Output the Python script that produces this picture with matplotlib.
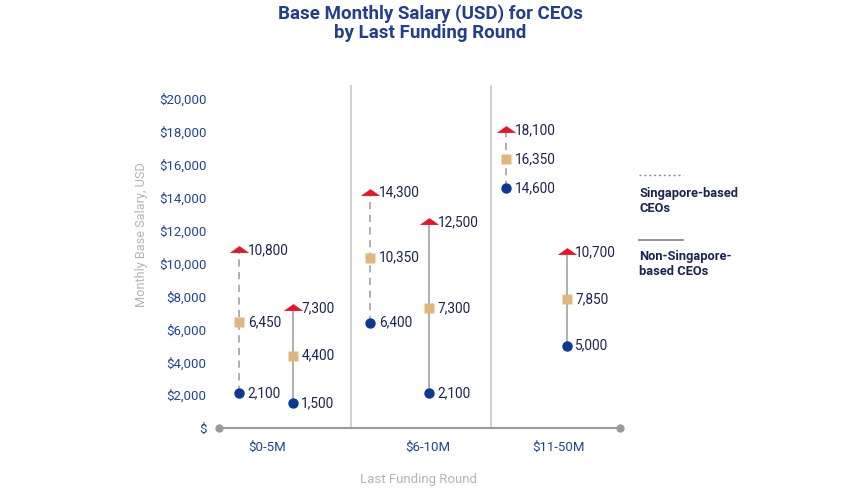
import matplotlib
matplotlib.use("Agg")
import matplotlib.pyplot as plt
from matplotlib.path import Path
import numpy as np

plt.rcParams['font.family'] = ['Roboto', 'DejaVu Sans']

categories = ["$0-5M", "$6-10M", "$11-50M"]
sg_high = [10800, 14300, 18100]
sg_mid = [6450, 10350, 16350]
sg_low = [2100, 6400, 14600]
non_high = [7300, 12500, 10700]
non_mid = [4400, 7300, 7850]
non_low = [1500, 2100, 5000]
yticks = [0, 2000, 4000, 6000, 8000, 10000, 12000, 14000, 16000, 18000, 20000]
ytick_labels = ["$", "$2,000", "$4,000", "$6,000", "$8,000", "$10,000", "$12,000",
                "$14,000", "$16,000", "$18,000", "$20,000"]

TITLE_C = "#233f8c"
TICK_C = "#1f4699"
VAL_C = "#1c2452"
RED = "#e8142c"
TAN = "#e2b57c"
NAVY = "#0b3a95"
GRAY = "#a9a9a9"

fig = plt.figure(figsize=(8.68, 4.88), dpi=100)
W, H = 868, 488
ax = fig.add_axes([219 / W, 1 - 428 / H, (620 - 219) / W, (428 - 85) / H])
ax.set_xlim(0, 3)
ax.set_ylim(0, 20850)
for s in ax.spines.values():
    s.set_visible(False)

tri = Path([(-1, -0.25), (1, -0.25), (0, 0.45), (-1, -0.25)],
           [Path.MOVETO, Path.LINETO, Path.LINETO, Path.CLOSEPOLY])

sg_x = [0.15, 1.13, 2.15]
non_x = [0.55, 1.57, 2.60]
for i in range(3):
    for xs_list, hi, md, lo, ls in [(sg_x, sg_high, sg_mid, sg_low, (0, (4, 3))),
                                    (non_x, non_high, non_mid, non_low, '-')]:
        x = xs_list[i]
        ax.plot([x, x], [lo[i], hi[i]], color=GRAY, lw=1.3, linestyle=ls, zorder=1)
        ax.plot(x, hi[i], marker=tri, ms=14, color=RED, mec='none', zorder=3)
        ax.plot(x, md[i], marker='s', ms=7, color=TAN, mec='none', zorder=3)
        ax.plot(x, lo[i], marker='o', ms=7.5, color=NAVY, mec='none', zorder=3)
        for v in (hi[i], md[i], lo[i]):
            ax.text(x + 0.065, v, f"{v:,}", color=VAL_C, fontsize=9.8,
                    va='center', ha='left', zorder=4)

# separators
for xs in (0.9875, 2.035):
    ax.axvline(xs, color="#c8c8c8", lw=1.2, zorder=0)

# bottom axis with dots
ax.plot([0, 3], [0, 0], color="#9a9a9a", lw=1.5, clip_on=False, zorder=2)
ax.plot([0, 3], [0, 0], 'o', color="#9a9a9a", ms=5, clip_on=False, zorder=2)

ax.set_yticks(yticks)
ax.set_yticklabels(ytick_labels)
ax.tick_params(axis='y', length=0, pad=9, labelsize=9.5, labelcolor=TICK_C)
ax.set_xticks([0.36, 1.56, 2.54])
ax.set_xticklabels(categories)
ax.tick_params(axis='x', length=0, pad=9, labelsize=9.5, labelcolor=TICK_C)

ax.set_ylabel("Monthly Base Salary, USD", color="#b5b5b5", fontsize=9.2)
ax.yaxis.set_label_coords((148 - 219) / 401, (428 - 235) / 343)
ax.set_xlabel("Last Funding Round", color="#b5b5b5", fontsize=9.5)
ax.xaxis.set_label_coords((419 - 219) / 401, -(480 - 428) / 343)
ax.xaxis.label.set_va('center')

fig.text(430 / W, 1 - 23 / H, "Base Monthly Salary (USD) for CEOs\nby Last Funding Round",
         ha='center', va='center', fontsize=13.5, fontweight='bold', color=TITLE_C,
         linespacing=1.05)

# legend
fig.add_artist(plt.Line2D([639 / W, 683 / W], [1 - 175 / H, 1 - 175 / H],
                          color="#8a8a8a", lw=1.0, linestyle=(0, (1.5, 2))))
fig.text(639 / W, 1 - 201 / H, "Singapore-based\nCEOs", ha='left', va='center',
         fontsize=9.3, fontweight='bold', color=VAL_C, linespacing=1.15)
fig.add_artist(plt.Line2D([639 / W, 683 / W], [1 - 240 / H, 1 - 240 / H],
                          color="#8a8a8a", lw=1.3))
fig.text(639 / W, 1 - 264 / H, "Non-Singapore-\nbased CEOs", ha='left', va='center',
         fontsize=9.3, fontweight='bold', color=VAL_C, linespacing=1.15)

fig.savefig("out.png", dpi=100, facecolor='white')
